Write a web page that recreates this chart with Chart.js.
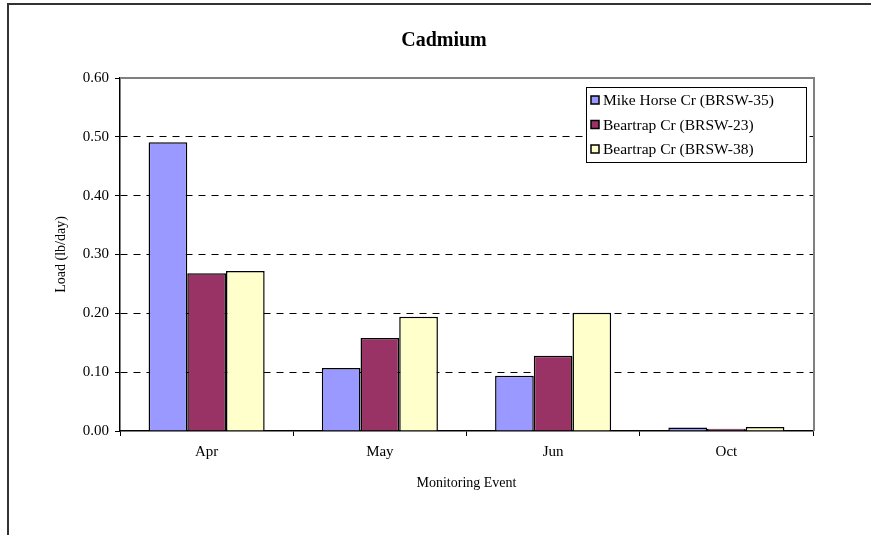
<!DOCTYPE html>
<html>
<head>
<meta charset="utf-8">
<script src="https://cdn.jsdelivr.net/npm/chart.js@4.4.1/dist/chart.umd.min.js"></script>
<style>
  html, body { margin: 0; padding: 0; background: #fff; }
  .wrap { position: relative; width: 871px; height: 535px; }
  .frame { position: absolute; left: 7px; top: 3px; width: 880px; height: 600px;
           border-left: 2px solid #333; border-top: 2px solid #333; pointer-events: none; }
</style>
</head>
<body>
<div class="wrap">
  <canvas id="cadmiumChart" width="871" height="535"></canvas>
  <div class="frame"></div>
</div>
<script>
// Data
const categories = ['Apr', 'May', 'Jun', 'Oct'];
const mikeHorse35 = [0.491, 0.107, 0.094, 0.006];
const beartrap23 = [0.268, 0.158, 0.128, 0.004];
const beartrap38 = [0.272, 0.194, 0.201, 0.007];
const yTicks = [0, 0.1, 0.2, 0.3, 0.4, 0.5, 0.6];

const serif = "'Liberation Serif', 'Times New Roman', serif";

// plot frame (gray top/right) + boxed legend inside the chart area
const framePlugin = {
    id: 'framePlugin',
    afterDatasetsDraw(chart) {
        const {ctx, chartArea} = chart;
        ctx.save();
        ctx.strokeStyle = '#808080';
        ctx.lineWidth = 2;
        ctx.beginPath();
        ctx.moveTo(chartArea.left, chartArea.top);
        ctx.lineTo(chartArea.right + 1, chartArea.top);
        ctx.lineTo(chartArea.right + 1, chartArea.bottom);
        ctx.stroke();

        // legend
        const x = 586, y = 87, w = 220, h = 75;
        ctx.fillStyle = '#fff';
        ctx.fillRect(x, y, w, h);
        ctx.strokeStyle = '#000';
        ctx.lineWidth = 1;
        ctx.strokeRect(x + 0.5, y + 0.5, w, h);
        ctx.font = '15.5px ' + serif;
        ctx.textBaseline = 'middle';
        chart.data.datasets.forEach((ds, i) => {
            const cy = y + 13 + i * 24.5;
            ctx.fillStyle = ds.backgroundColor;
            ctx.fillRect(x + 5, cy - 4, 8, 8);
            ctx.strokeStyle = '#000';
            ctx.lineWidth = 1.5;
            ctx.strokeRect(x + 5, cy - 4, 8, 8);
            ctx.fillStyle = '#000';
            ctx.fillText(ds.label, x + 17, cy + 1);
        });
        ctx.restore();
    }
};

const ctx = document.getElementById('cadmiumChart').getContext('2d');
const cadmiumChart = new Chart(ctx, {
    type: 'bar',
    data: {
        labels: categories,
        datasets: [{
            label: 'Mike Horse Cr (BRSW-35)',
            data: mikeHorse35,
            backgroundColor: '#9999FF',
            borderColor: '#000',
            borderWidth: 1.5
        }, {
            label: 'Beartrap Cr (BRSW-23)',
            data: beartrap23,
            backgroundColor: '#993366',
            borderColor: '#000',
            borderWidth: 1.5
        }, {
            label: 'Beartrap Cr (BRSW-38)',
            data: beartrap38,
            backgroundColor: '#FFFFCC',
            borderColor: '#000',
            borderWidth: 1.5
        }]
    },
    plugins: [framePlugin],
    options: {
        responsive: false,
        animation: false,
        layout: {
            padding: { left: 17, right: 0, top: 0, bottom: 0 }
        },
        datasets: {
            bar: {
                categoryPercentage: 0.67,
                barPercentage: 1.0
            }
        },
        plugins: {
            legend: { display: false },
            tooltip: { enabled: false },
            title: {
                display: true,
                text: 'Cadmium',
                color: '#000',
                font: { family: serif, size: 20, weight: 'bold' },
                padding: { top: 29, bottom: 25 }
            }
        },
        scales: {
            x: {
                afterFit: function(scale) { scale.height = 104; },
                grid: {
                    offset: true,
                    drawOnChartArea: false,
                    color: '#000',
                    tickLength: 5
                },
                border: { color: '#000', width: 1.5 },
                ticks: {
                    color: '#000',
                    padding: 7,
                    font: { family: serif, size: 15 }
                },
                title: {
                    display: true,
                    text: 'Monitoring Event',
                    color: '#000',
                    font: { family: serif, size: 14 },
                    padding: { top: 0, bottom: 43 }
                }
            },
            y: {
                min: 0,
                max: 0.6,
                afterFit: function(scale) { scale.width = 103; },
                afterBuildTicks: function(scale) {
                    scale.ticks = yTicks.map(v => ({ value: v }));
                },
                grid: {
                    color: function(c) {
                        return (c.tick && (c.tick.value === 0.6 || c.tick.value === 0)) ? 'rgba(0,0,0,0)' : '#000';
                    },
                    tickColor: '#000',
                    tickLength: 5,
                    lineWidth: 1
                },
                border: { color: '#000', width: 1.5, dash: [7, 6] },
                ticks: {
                    color: '#000',
                    padding: 6,
                    font: { family: serif, size: 15 },
                    callback: function(value) {
                        return Number(value).toFixed(2);
                    }
                },
                title: {
                    display: true,
                    text: 'Load (lb/day)',
                    color: '#000',
                    font: { family: serif, size: 14 },
                    padding: { top: 36, bottom: 0 }
                }
            },
            yRight: {
                position: 'right',
                display: true,
                afterFit: function(scale) { scale.width = 58; },
                grid: { display: false },
                border: { display: false },
                ticks: { display: false }
            }
        }
    }
});
</script>
</body>
</html>
